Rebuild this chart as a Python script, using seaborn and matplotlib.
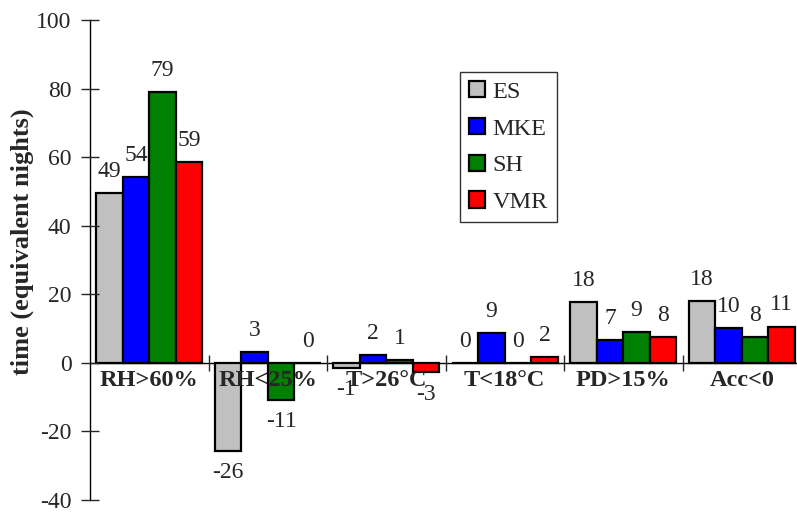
import pandas as pd
import numpy as np
import matplotlib
matplotlib.use("Agg")
import matplotlib.pyplot as plt
import matplotlib.patches as mpatches
import seaborn as sns

categories = ["RH>60%", "RH<25%", "T>26°C", "T<18°C", "PD>15%", "Acc<0"]
series = ["ES", "MKE", "SH", "VMR"]
colors = ["#c0c0c0", "#0000ff", "#008000", "#ff0000"]

es_vals = [49.4, -25.8, -1.4, 0.0, 17.8, 18.1]
mke_vals = [54.3, 3.1, 2.4, 8.6, 6.7, 10.2]
sh_vals = [79.0, -10.7, 0.8, 0.0, 9.0, 7.6]
vmr_vals = [58.6, 0.0, -2.8, 1.6, 7.6, 10.6]

df = pd.DataFrame({
    "cat": categories * 4,
    "series": np.repeat(series, len(categories)),
    "val": es_vals + mke_vals + sh_vals + vmr_vals,
})

sns.set_style("white")
plt.rcParams["font.family"] = ["Liberation Serif", "DejaVu Serif"]
plt.rcParams["axes.unicode_minus"] = False

fig = plt.figure(figsize=(7.97, 5.14), dpi=100)
ax = fig.add_axes([90 / 797, 1 - 500 / 514, 711 / 797, 480 / 514])

sns.barplot(data=df, x="cat", y="val", hue="series", hue_order=series,
            order=categories, palette=colors, edgecolor="black", linewidth=1.6,
            width=0.895, gap=0, saturation=1, legend=False, ax=ax)

for cont in ax.containers:
    labs = ["%.0f" % b.get_height() for b in cont]
    ax.bar_label(cont, labels=labs, padding=8, fontsize=17)

ax.set_axisbelow(False)
ax.set_xlim(-0.5, 5.5)
ax.set_ylim(-40, 100)
ax.set_yticks(range(-40, 101, 20))
ax.spines["top"].set_visible(False)
ax.spines["right"].set_visible(False)
ax.spines["bottom"].set_position(("data", 0))
ax.spines["left"].set_linewidth(1)
ax.spines["bottom"].set_linewidth(1)
ax.spines["left"].set_color("black")
ax.spines["bottom"].set_color("black")
ax.spines["bottom"].set_zorder(0.5)

ax.tick_params(axis="y", direction="inout", length=12.5, width=1, pad=7,
               labelsize=17, left=True)
ax.tick_params(axis="x", which="major", length=0, pad=5, labelsize=17.5)
for t in ax.get_xticklabels():
    t.set_fontweight("bold")
ax.set_xticks(np.arange(0.5, 5.6, 1), minor=True)
ax.tick_params(axis="x", which="minor", direction="inout", length=11, width=1,
               bottom=True)

ax.set_xlabel("")
ax.set_ylabel("time (equivalent nights)", fontsize=19, fontweight="bold")
ax.yaxis.set_label_coords(-0.079, 0.5375)

handles = [mpatches.Patch(facecolor=c, edgecolor="black", linewidth=1.6, label=s)
           for s, c in zip(series, colors)]
leg = fig.legend(handles=handles, loc="upper left",
                 bbox_to_anchor=(460 / 797, 1 - 72 / 514), fontsize=17.5,
                 frameon=True, fancybox=False, edgecolor="black",
                 handlelength=0.66, handleheight=0.66, handletextpad=0.3,
                 labelspacing=0.62, borderpad=0.37, borderaxespad=0)
leg.get_frame().set_linewidth(1)

fig.savefig("out.png", dpi=100, facecolor="white")
